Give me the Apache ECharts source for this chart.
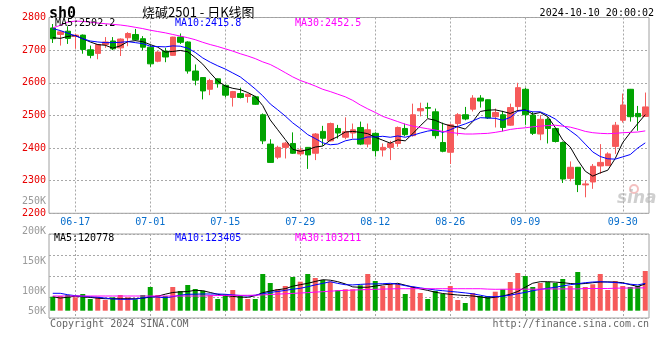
<!DOCTYPE html>
<html><head><meta charset="utf-8">
<script src="https://cdn.jsdelivr.net/npm/echarts@6/dist/echarts.min.js"></script>
<style>html,body{margin:0;padding:0;background:#fff}#c{width:660px;height:360px}</style>
</head><body><div id="c"></div>
<script>
const dates = ['06-12','06-13','06-14','06-17','06-18','06-19','06-20','06-21','06-24','06-25','06-26','06-27','06-28',
'07-01','07-02','07-03','07-04','07-05','07-08','07-09','07-10','07-11','07-12','07-15','07-16','07-17','07-18','07-19',
'07-22','07-23','07-24','07-25','07-26','07-29','07-30','07-31','08-01','08-02','08-05','08-06','08-07','08-08','08-09',
'08-12','08-13','08-14','08-15','08-16','08-19','08-20','08-21','08-22','08-23','08-26','08-27','08-28','08-29','08-30',
'09-02','09-03','09-04','09-05','09-06','09-09','09-10','09-11','09-12','09-13','09-18','09-19','09-20','09-23','09-24',
'09-25','09-26','09-27','09-30','10-08','10-09','10-10'];
const labelDates = ['06-17','07-01','07-15','07-29','08-12','08-26','09-09','09-30'];

const opens = [2768,2748,2758,2742,2746,2701,2690,2717,2728,2707,2738,2748,2735,2709,2666,2697,2684,2740,2725,2636,
2616,2580,2612,2592,2555,2567,2558,2557,2502,2412,2372,2402,2414,2382,2402,2384,2451,2422,2460,2433,
2446,2463,2412,2445,2394,2402,2414,2460,2438,2514,2524,2511,2417,2387,2475,2502,2519,2553,2548,2496,
2502,2470,2527,2580,2501,2443,2488,2460,2417,2307,2341,2287,2296,2345,2346,2405,2485,2580,2506,2497];
const closes = [2735,2756,2736,2746,2702,2684,2717,2725,2704,2734,2751,2732,2709,2658,2694,2679,2740,2724,2636,2608,
2575,2607,2597,2562,2573,2555,2565,2534,2422,2356,2402,2415,2384,2394,2379,2443,2430,2475,2446,2450,
2456,2412,2456,2392,2402,2414,2463,2441,2502,2521,2522,2438,2390,2471,2502,2489,2553,2544,2492,2509,
2463,2524,2585,2502,2445,2488,2460,2420,2305,2341,2288,2290,2344,2356,2382,2470,2532,2496,2496,2526];
const lows = [2722,2714,2719,2704,2689,2675,2672,2707,2700,2682,2712,2729,2699,2649,2663,2663,2683,2719,2628,2592,
2549,2562,2585,2555,2527,2552,2539,2532,2412,2355,2366,2368,2382,2375,2336,2363,2407,2420,2429,2427,
2429,2409,2402,2374,2374,2363,2404,2436,2435,2497,2492,2429,2387,2351,2438,2485,2512,2524,2489,2463,
2451,2468,2512,2471,2440,2424,2414,2417,2293,2298,2265,2249,2275,2321,2345,2382,2478,2481,2453,2496];
const highs = [2780,2760,2773,2750,2748,2714,2719,2740,2740,2736,2755,2765,2743,2717,2697,2707,2741,2751,2727,2656,
2617,2612,2613,2595,2575,2585,2567,2560,2506,2427,2407,2419,2448,2402,2403,2446,2468,2478,2471,2494,
2475,2481,2475,2448,2414,2422,2466,2475,2536,2539,2539,2521,2478,2475,2507,2526,2562,2562,2549,2521,
2514,2536,2600,2585,2511,2501,2494,2460,2420,2359,2342,2300,2351,2412,2387,2480,2567,2581,2529,2570];

const ma5 = [2738,2736,2742,2745,2735,2725,2717,2715,2706,2713,2726,2729,2726,2717,2709,2694,2696,2699,2695,2677,
2657,2630,2605,2590,2583,2579,2570,2558,2530,2486,2456,2426,2396,2390,2395,2403,2406,2424,2435,2449,
2451,2448,2444,2433,2424,2415,2425,2422,2444,2468,2490,2485,2475,2468,2465,2458,2481,2512,2516,2517,
2512,2506,2515,2517,2504,2509,2496,2463,2424,2403,2363,2329,2314,2324,2332,2368,2417,2447,2475,2502.2];
const ma10 = [2766,2760,2752,2744,2735,2728,2725,2723,2723,2724,2726,2723,2720,2712,2711,2710,2713,2712,2706,2693,
2676,2663,2652,2642,2630,2618,2600,2581,2560,2535,2517,2498,2477,2460,2441,2429,2416,2410,2412,2422,
2427,2427,2434,2434,2436,2433,2437,2433,2439,2446,2452,2455,2448,2456,2466,2474,2483,2493,2492,2491,
2485,2494,2513,2516,2511,2511,2501,2489,2470,2453,2436,2412,2388,2374,2367,2366,2373,2380,2400,2415.8];
const ma30 = [2768,2776,2786,2789,2788,2786,2783,2781,2779,2777,2774,2770,2766,2761,2757,2753,2748,2743,2738,2732,
2724,2717,2711,2704,2697,2689,2682,2674,2664,2656,2644,2631,2618,2607,2599,2590,2580,2573,2565,2557,
2546,2532,2520,2509,2497,2489,2481,2473,2467,2463,2459,2455,2451,2448,2445,2443,2443,2444,2445,2448,
2452,2457,2460,2462,2465,2467,2469,2470,2467,2464,2458,2451,2447,2445,2444,2445,2447,2448,2449,2452.5];

const volumes = [63300,66400,71000,60600,75500,52900,63300,48400,60600,71000,60600,51500,71000,107100,71000,66400,107100,89000,116200,98100,
90400,71000,52900,74100,93600,66400,52900,52900,165900,125200,98100,111600,152300,131100,165900,147800,138800,131100,92200,96700,
96700,114800,165900,134200,111600,120700,120700,75500,108500,80000,52900,89000,75500,111600,48400,34800,80000,66400,66400,85900,
96700,129700,170400,156800,107100,125200,129700,125200,143300,111600,174900,107100,119300,165900,93600,134200,111600,107100,111600,179400];
const vma5 = [63300,57000,61000,65500,62400,60100,56500,54200,54200,54200,54200,54200,56500,61500,65500,74600,82300,85000,86800,92200,
90400,82300,74100,67800,64600,61500,60600,67800,81400,89000,94900,99400,110700,117500,123800,132000,140100,137900,131100,121100,
107600,105800,106200,111200,116600,119800,123800,115300,106200,98500,91800,83600,77700,74100,71000,68700,66400,62400,57000,61000,
66400,74600,86800,106200,124300,131100,131100,129300,126600,122900,120700,122900,126600,129700,130200,129300,126600,117500,109400,120778];
const vma10 = [78600,78600,72300,67800,65500,63300,60600,57000,53300,51500,51500,52400,57900,63300,61500,58800,63300,70100,74100,74600,
75500,75500,75500,74100,71400,68700,66400,70100,76800,82700,86800,91800,97200,101200,108500,116600,123400,131100,123400,117500,
116600,118900,120700,121100,122000,123800,119800,113000,108500,103100,98500,93600,90400,87200,84100,80500,76400,70100,63300,63300,
65500,70100,76800,82700,90400,96300,101200,105800,112100,117500,122000,126600,129700,131100,129300,127500,123800,119800,116600,123405];
const vma30 = [66400,66400,66400,66400,66400,66400,66400,66400,66400,66400,66400,66400,66400,66400,66400,66400,66400,66400,66400,66400,
66400,67800,68700,69200,69600,69600,69600,70100,71400,73200,75000,76400,78200,80000,81800,84100,85900,88100,90400,91800,
93100,94500,95800,96700,97600,98500,99400,99400,99400,99400,99400,99400,99400,99400,99400,99400,99400,99400,97600,96700,
97200,97200,97200,97200,97200,97200,98500,98500,98500,98500,98500,100300,100300,100300,100300,101700,102200,102600,103000,103211];

const priceLabels = ['MA5:2502.2','MA10:2415.8','MA30:2452.5'];
const volLabels = ['MA5:120778','MA10:123405','MA30:103211'];
const volTickLabels = {50000:'50K',100000:'100K',150000:'150K',200000:'200K',250000:'250K'};

const RED = '#f65a5a', GREEN = '#00a300';
const MA_COLORS = ['#000000','#0000ff','#ff00ff'];
const MONO = '"DejaVu Sans Mono", monospace';

const candleData = dates.map((d, i) => [opens[i], closes[i], lows[i], highs[i]]);
const volData = volumes.map((v, i) => ({value: v, itemStyle: {color: closes[i] >= opens[i] ? RED : GREEN}}));
const showDate = (i, v) => labelDates.indexOf(v) >= 0 || labelDates.indexOf(dates[i]) >= 0;
const dotted = {color: '#a8a8a8', type: [2, 2], width: 1};

const chart = echarts.init(document.getElementById('c'), null, {renderer: 'canvas'});
const L = 49, W = 600;
chart.setOption({
  animation: false,
  backgroundColor: '#ffffff',
  grid: [
    {left: L, width: W, top: 17.5, height: 195.8, show: true, borderColor: '#a0a0a0', borderWidth: 1},
    {left: L, width: W, top: 233.27, height: 77.43, show: false},
    {left: L, width: W, top: 234, height: 84, show: true, borderColor: '#a0a0a0', borderWidth: 1},
    {left: L, width: W, top: 201, height: 150, show: false}
  ],
  xAxis: [
    {type: 'category', gridIndex: 0, data: dates, boundaryGap: true,
     axisLine: {show: false}, axisTick: {show: false, alignWithLabel: true},
     axisLabel: {interval: showDate, color: '#0a6fcc', fontFamily: MONO, fontSize: 10, margin: 4},
     splitLine: {show: true, interval: showDate, alignWithLabel: true, lineStyle: dotted}},
    {type: 'category', gridIndex: 1, data: dates, boundaryGap: true, show: false},
    {type: 'category', gridIndex: 2, data: dates, boundaryGap: true,
     axisLine: {show: false}, axisTick: {show: false, alignWithLabel: true}, axisLabel: {show: false},
     splitLine: {show: true, interval: showDate, alignWithLabel: true, lineStyle: dotted}},
    {type: 'value', gridIndex: 3, show: false, min: 0, max: 1}
  ],
  yAxis: [
    {type: 'value', gridIndex: 0, min: 2200, max: 2800, interval: 100,
     axisLine: {show: false}, axisTick: {show: false},
     axisLabel: {color: '#e80000', fontFamily: MONO, fontSize: 10, margin: 3, formatter: v => String(v)},
     splitLine: {show: true, lineStyle: dotted}},
    {type: 'value', gridIndex: 1, min: 0, max: 350000, show: false, splitLine: {show: false}},
    {type: 'value', gridIndex: 2, min: 0, max: 4, interval: 1,
     axisLine: {show: false}, axisTick: {show: false}, axisLabel: {show: false},
     splitLine: {show: true, lineStyle: dotted}},
    {type: 'value', gridIndex: 3, min: 0, max: 250000, interval: 50000,
     axisLine: {show: false}, axisTick: {show: false}, splitLine: {show: false},
     axisLabel: {color: '#9a9a9a', fontFamily: MONO, fontSize: 10, margin: 3, showMinLabel: false,
       formatter: v => v === 50000 ? '{lo|' + volTickLabels[v] + '}' : (volTickLabels[v] || ''),
       rich: {lo: {color: '#9a9a9a', fontFamily: MONO, fontSize: 10, padding: [0, 0, 20, 0]}}}}
  ],
  series: [
    {type: 'candlestick', xAxisIndex: 0, yAxisIndex: 0, data: candleData, barWidth: 6,
     itemStyle: {color: RED, color0: GREEN, borderColor: RED, borderColor0: GREEN, borderWidth: 1}},
    {type: 'line', xAxisIndex: 0, yAxisIndex: 0, data: ma5, symbol: 'none', lineStyle: {color: MA_COLORS[0], width: 1}},
    {type: 'line', xAxisIndex: 0, yAxisIndex: 0, data: ma10, symbol: 'none', lineStyle: {color: MA_COLORS[1], width: 1}},
    {type: 'line', xAxisIndex: 0, yAxisIndex: 0, data: ma30, symbol: 'none', lineStyle: {color: MA_COLORS[2], width: 1}},
    {type: 'bar', xAxisIndex: 1, yAxisIndex: 1, data: volData, barWidth: 5},
    {type: 'line', xAxisIndex: 1, yAxisIndex: 1, data: vma5, symbol: 'none', lineStyle: {color: MA_COLORS[0], width: 1}},
    {type: 'line', xAxisIndex: 1, yAxisIndex: 1, data: vma10, symbol: 'none', lineStyle: {color: MA_COLORS[1], width: 1}},
    {type: 'line', xAxisIndex: 1, yAxisIndex: 1, data: vma30, symbol: 'none', lineStyle: {color: MA_COLORS[2], width: 1}}
  ],
  graphic: [
    {type: 'text', x: 49, y: 14, style: {text: 'sh0', font: 'bold 15px ' + MONO, fill: '#000', textVerticalAlign: 'middle'}},
    {type: 'text', x: 142, y: 12, style: {text: '烧碱2501 - 日K线图', font: '13px "Noto Sans CJK SC"', fill: '#000', textVerticalAlign: 'middle'}},
    {type: 'text', x: 654, y: 13, style: {text: '2024-10-10 20:00:02', font: '10px ' + MONO, fill: '#000', textAlign: 'right', textVerticalAlign: 'middle'}},
    {type: 'text', x: 55, y: 23.5, z: 100, style: {text: priceLabels[0], font: '10px ' + MONO, fill: MA_COLORS[0], textVerticalAlign: 'middle'}},
    {type: 'text', x: 175, y: 23.5, z: 100, style: {text: priceLabels[1], font: '10px ' + MONO, fill: MA_COLORS[1], textVerticalAlign: 'middle'}},
    {type: 'text', x: 295, y: 23.5, z: 100, style: {text: priceLabels[2], font: '10px ' + MONO, fill: MA_COLORS[2], textVerticalAlign: 'middle'}},
    {type: 'text', x: 54, y: 238.5, z: 100, style: {text: volLabels[0], font: '10px ' + MONO, fill: MA_COLORS[0], textVerticalAlign: 'middle'}},
    {type: 'text', x: 175, y: 238.5, z: 100, style: {text: volLabels[1], font: '10px ' + MONO, fill: MA_COLORS[1], textVerticalAlign: 'middle'}},
    {type: 'text', x: 295, y: 238.5, z: 100, style: {text: volLabels[2], font: '10px ' + MONO, fill: MA_COLORS[2], textVerticalAlign: 'middle'}},
    {type: 'text', x: 50, y: 324, style: {text: 'Copyright 2024 SINA.COM', font: '10px ' + MONO, fill: '#666', textVerticalAlign: 'middle'}},
    {type: 'text', x: 649, y: 324, style: {text: 'http://finance.sina.com.cn', font: '10px ' + MONO, fill: '#666', textAlign: 'right', textVerticalAlign: 'middle'}},
    {type: 'circle', shape: {cx: 634, cy: 189, r: 4}, style: {fill: 'none', stroke: 'rgba(235,140,140,0.55)', lineWidth: 2}},
    {type: 'text', x: 617, y: 199, style: {text: 'sina', font: 'italic bold 17px "DejaVu Sans"', fill: 'rgba(175,175,175,0.6)', textVerticalAlign: 'middle'}}
  ]
});
</script></body></html>
